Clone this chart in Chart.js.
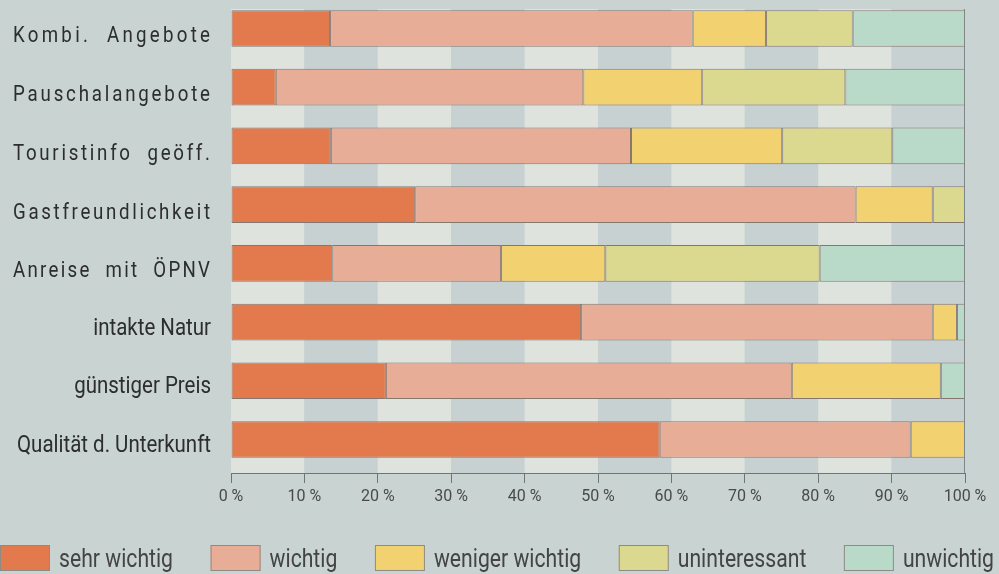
<!DOCTYPE html>
<html>
<head>
<meta charset="utf-8">
<script src="https://cdn.jsdelivr.net/npm/chart.js@4"></script>
<style>
  html, body { margin: 0; padding: 0; background: #c8d3d2; }
  #wrap { width: 999px; height: 574px; }
</style>
</head>
<body>
<div id="wrap"><canvas id="c" width="999" height="574"></canvas></div>
<script>
// ---- data ----
const categories = ['Kombi.  Angebote', 'Pauschalangebote', 'Touristinfo  geöff.', 'Gastfreundlichkeit', 'Anreise  mit  ÖPNV', 'intakte Natur', 'günstiger Preis', 'Qualität d. Unterkunft'];
const seriesNames = ['sehr wichtig', 'wichtig', 'weniger wichtig', 'uninteressant', 'unwichtig'];
const sehrWichtig    = [13.5,  6.1, 13.6, 25.1, 13.8, 47.7, 21.1, 58.4];
const wichtig        = [49.4, 41.9, 40.9, 60.0, 23.0, 47.9, 55.3, 34.2];
const wenigerWichtig = [10.0, 16.2, 20.6, 10.5, 14.2,  3.3, 20.3,  7.4];
const uninteressant  = [11.8, 19.5, 15.0,  4.4, 29.2,  0.0,  0.0,  0.0];
const unwichtig      = [15.3, 16.3,  9.9,  0.0, 19.8,  1.1,  3.3,  0.0];
const xTicks = [0, 10, 20, 30, 40, 50, 60, 70, 80, 90, 100];

// ---- styles ----
const colors = ['#e27a4e', '#e8ad97', '#f2d270', '#dbd88f', '#b9d9c9'];
const borderCol = '#857770';
const labelSpaced = [true, true, true, true, true, false, false, false];
const fontFam = 'Roboto, "Liberation Sans", sans-serif';

const seriesValues = [sehrWichtig, wichtig, wenigerWichtig, uninteressant, unwichtig];
const datasets = seriesValues.map((arr, k) => ({
  label: seriesNames[k],
  data: arr.map((v, i) => ({ x: v === 0 ? null : v, y: i })),
  backgroundColor: colors[k],
  borderColor: borderCol,
  borderWidth: 1,
  borderSkipped: false,
  barPercentage: 0.625,
  categoryPercentage: 1.0
}));

const bgPlugin = {
  id: 'bg',
  beforeDraw(chart) {
    const ctx = chart.ctx;
    ctx.save();
    ctx.fillStyle = '#c8d3d2';
    ctx.fillRect(0, 0, chart.width, chart.height);
    ctx.restore();
  },
  beforeDatasetsDraw(chart) {
    const ctx = chart.ctx, a = chart.chartArea, xs = chart.scales.x;
    ctx.save();
    for (let k = 0; k < xTicks.length - 1; k++) {
      const x0 = xs.getPixelForValue(xTicks[k]);
      const x1 = xs.getPixelForValue(xTicks[k + 1]);
      ctx.fillStyle = (k % 2 === 0) ? '#dee3de' : '#c7d1d2';
      ctx.fillRect(x0, a.top, x1 - x0, a.bottom - a.top);
    }
    ctx.restore();
  },
  afterDraw(chart) {
    const ctx = chart.ctx, a = chart.chartArea, ys = chart.scales.y;
    ctx.save();
    // frame (right edge)
    ctx.strokeStyle = '#7f8786';
    ctx.lineWidth = 1;
    ctx.beginPath();
    ctx.moveTo(Math.round(a.right) - 0.5, a.top);
    ctx.lineTo(Math.round(a.right) - 0.5, a.bottom);
    ctx.stroke();

    // category labels
    ctx.fillStyle = '#2d2d2d';
    ctx.textBaseline = 'alphabetic';
    ctx.font = '23px ' + fontFam;
    ctx.letterSpacing = '0px';
    const sxPlain = 194 / ctx.measureText(categories[7]).width;
    categories.forEach((lab, i) => {
      const yc = ys.getPixelForValue(i);
      ctx.save();
      if (labelSpaced[i]) {
        const sx = 0.85;
        ctx.font = '22px ' + fontFam;
        ctx.letterSpacing = '0px';
        const w0 = ctx.measureText(lab).width;
        const n = [...lab].length;
        const ls = (197 / sx - w0) / (n - 1);
        ctx.letterSpacing = ls + 'px';
        ctx.translate(13, yc + 14);
        ctx.scale(sx, 1);
        ctx.textAlign = 'left';
        ctx.fillText(lab, 0, 0);
      } else {
        ctx.font = '23px ' + fontFam;
        ctx.letterSpacing = '0px';
        ctx.translate(211, yc + 12.5);
        ctx.scale(sxPlain, 1);
        ctx.textAlign = 'right';
        ctx.fillText(lab, 0, 0);
      }
      ctx.restore();
    });
    ctx.letterSpacing = '0px';

    // legend
    ctx.font = '25px ' + fontFam;
    const sxL = 114 / ctx.measureText(seriesNames[0]).width;
    const widths = seriesNames.map(s => ctx.measureText(s).width * sxL);
    const boxW = 50, boxH = 26, gapT = 9;
    const total = widths.reduce((s, w) => s + boxW + gapT + w, 0);
    const gap = (994 - total) / (seriesNames.length - 1);
    let x = 0;
    seriesNames.forEach((s, k) => {
      ctx.fillStyle = colors[k];
      ctx.fillRect(x, 545, boxW, boxH);
      ctx.strokeStyle = '#8e8a86';
      ctx.lineWidth = 1;
      ctx.strokeRect(x + 0.5, 545.5, boxW - 1, boxH - 1);
      ctx.save();
      ctx.fillStyle = '#444444';
      ctx.textAlign = 'left';
      ctx.translate(x + boxW + gapT, 567);
      ctx.scale(sxL, 1);
      ctx.fillText(s, 0, 0);
      ctx.restore();
      x += boxW + gapT + widths[k] + gap;
    });
    ctx.restore();
  }
};

new Chart(document.getElementById('c'), {
  type: 'bar',
  data: { datasets },
  options: {
    indexAxis: 'y',
    responsive: false,
    animation: false,
    layout: { padding: { top: 9, right: 34, left: 0, bottom: 0 } },
    plugins: { legend: { display: false }, tooltip: { enabled: false } },
    scales: {
      x: {
        type: 'linear',
        stacked: true,
        min: 0, max: 100,
        afterBuildTicks: s => { s.ticks = xTicks.map(v => ({ value: v })); },
        afterFit: s => { s.height = 101; },
        ticks: {
          callback: v => v + ' %',
          font: { family: fontFam, size: 16 },
          color: '#4a4a4a',
          padding: 4,
          maxRotation: 0
        },
        grid: { drawOnChartArea: false, drawTicks: true, tickLength: 10, color: '#6f7575', lineWidth: 1 },
        border: { display: true, color: '#6f7575', width: 1 }
      },
      y: {
        type: 'linear',
        reverse: true,
        stacked: true,
        offset: false,
        min: -0.332, max: 7.571,
        afterBuildTicks: s => { s.ticks = categories.map((c, i) => ({ value: i })); },
        afterFit: s => { s.width = 231; },
        ticks: { display: false },
        grid: { display: false },
        border: { display: true, color: '#6f7575', width: 1 }
      }
    }
  },
  plugins: [bgPlugin]
});
</script>
</body>
</html>
